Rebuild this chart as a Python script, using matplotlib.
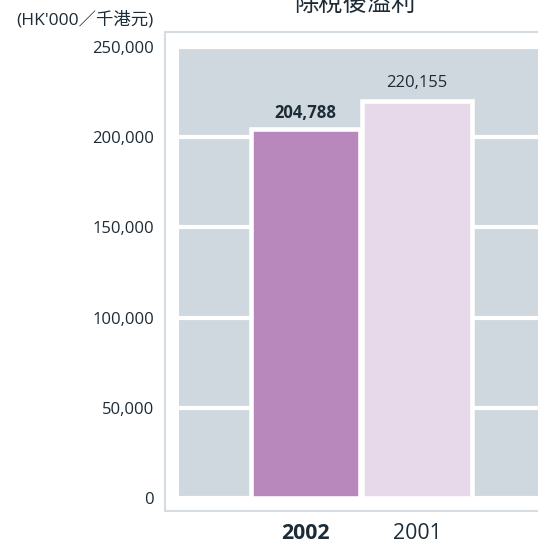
import matplotlib
matplotlib.use("Agg")
import matplotlib.pyplot as plt
from matplotlib.patches import Rectangle

# data
years = ["2002", "2001"]
profit = [204788, 220155]
value_labels = ["204,788", "220,155"]
yticks = [0, 50000, 100000, 150000, 200000, 250000]

title = "除稅後溢利"
unit_label = "(HK'000／千港元)"

FONTS = ["Open Sans", "Noto Sans CJK TC", "DejaVu Sans"]
plt.rcParams["font.family"] = FONTS

TEXT = "#1c2b36"
BAND = "#d0d8df"
FRAME = "#d5dce2"
bar_colors = ["#b887bb", "#e8d9ea"]
bar_weights = ["bold", "normal"]
label_pad = [7.5, 10]

W, H = 538, 543
fig = plt.figure(figsize=(W / 100, H / 100), dpi=100)

# outer light frame (runs off the right edge)
fig.patches.append(Rectangle((165 / W, 1 - 511 / H), 1.0, (511 - 32) / H,
                             transform=fig.transFigure, facecolor="white",
                             edgecolor=FRAME, linewidth=1.5, zorder=-1))

ax = fig.add_axes([179 / W, 1 - 498 / H, 1 - 179 / W, (498 - 47) / H])
ax.set_zorder(2)
ax.set_facecolor(BAND)
for s in ax.spines.values():
    s.set_visible(False)

x = list(range(len(years)))
ax.bar(x, profit, width=0.98, color=bar_colors, edgecolor="white",
       linewidth=3.3, zorder=3)

for i, v in enumerate(profit):
    ax.annotate(value_labels[i], (x[i], v), xytext=(0, label_pad[i]),
                textcoords="offset points", ha="center", va="baseline",
                fontsize=12, color=TEXT, fontweight=bar_weights[i], zorder=4)

ax.set_ylim(0, 250000)
ax.set_xlim(-1.133, 2.084)
ax.set_yticks(yticks)
ax.set_yticklabels(["{:,}".format(t) for t in yticks])
ax.yaxis.grid(True, color="white", linewidth=3)
ax.set_axisbelow(True)
ax.tick_params(axis="y", length=0, pad=18, labelsize=12, labelcolor=TEXT)

ax.set_xticks(x)
ax.set_xticklabels(years)
ax.tick_params(axis="x", length=0, pad=18, labelsize=15.3, labelcolor=TEXT)
for lbl, w in zip(ax.get_xticklabels(), bar_weights):
    lbl.set_fontweight(w)

fig.text(355 / W, 1 - 11.6 / H, title, ha="center", va="baseline",
         fontsize=17.5, color=TEXT, family=["Noto Sans CJK TC"])
fig.text(153 / W, 1 - 20 / H, unit_label, ha="right", va="center",
         fontsize=12.5, color=TEXT)

fig.savefig("out.png", dpi=100)
